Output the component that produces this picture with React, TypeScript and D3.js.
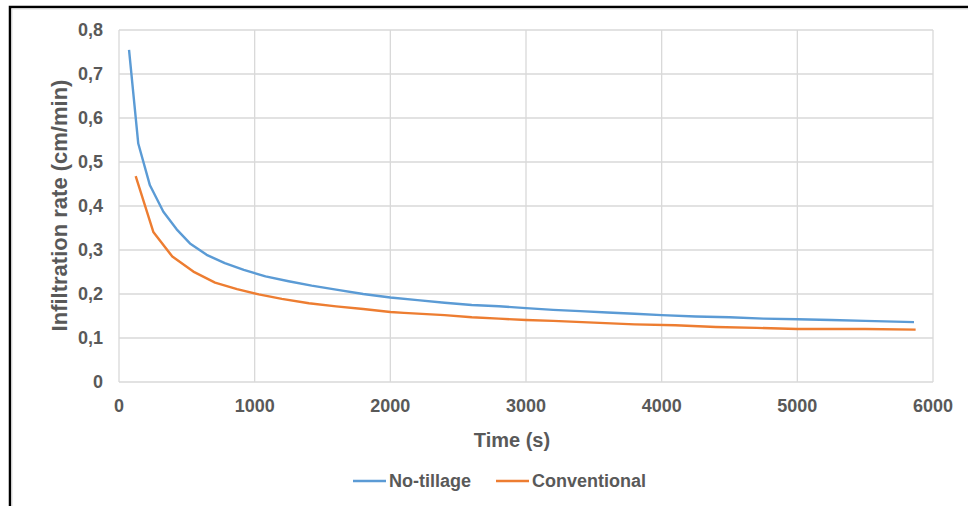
import React from "react";
import * as d3 from "d3";

const noTillTime = [74, 142, 228, 327, 425, 523, 646, 780, 920, 1080, 1250, 1420, 1600, 1800, 2000, 2200, 2400, 2600, 2800, 3000, 3200, 3400, 3600, 3800, 4000, 4250, 4500, 4750, 5000, 5250, 5500, 5860];
const noTillRate = [0.755, 0.542, 0.447, 0.387, 0.347, 0.315, 0.289, 0.27, 0.255, 0.24, 0.229, 0.219, 0.21, 0.2, 0.192, 0.186, 0.18, 0.175, 0.172, 0.168, 0.164, 0.161, 0.158, 0.155, 0.152, 0.149, 0.147, 0.144, 0.1425, 0.141, 0.139, 0.136];

const convTime = [123, 253, 393, 548, 708, 870, 1030, 1200, 1400, 1600, 1800, 2000, 2100, 2400, 2600, 2800, 3000, 3200, 3500, 3800, 4100, 4400, 4700, 5000, 5500, 5872];
const convRate = [0.468, 0.341, 0.285, 0.251, 0.226, 0.211, 0.199, 0.189, 0.179, 0.172, 0.166, 0.159, 0.157, 0.152, 0.147, 0.144, 0.141, 0.139, 0.135, 0.131, 0.129, 0.125, 0.123, 0.1205, 0.1205, 0.119];

const xTicks = [0, 1000, 2000, 3000, 4000, 5000, 6000];
const yTicks = [0, 0.1, 0.2, 0.3, 0.4, 0.5, 0.6, 0.7, 0.8];

const seriesNames = ["No-tillage", "Conventional"];
const seriesColors = ["#5B9BD5", "#ED7D31"];

const W = 968;
const H = 506;
const M = { left: 119, right: 933, top: 30, bottom: 382 };
const TEXT = "#595959";
const FONT = "'Liberation Sans', Arial, sans-serif";

export default function App() {
  const x = d3.scaleLinear().domain([0, 6000]).range([M.left, M.right]);
  const y = d3.scaleLinear().domain([0, 0.8]).range([M.bottom, M.top]);
  const line = d3
    .line<[number, number]>()
    .x((d) => x(d[0]))
    .y((d) => y(d[1]));

  const series = [
    noTillTime.map((t, i) => [t, noTillRate[i]] as [number, number]),
    convTime.map((t, i) => [t, convRate[i]] as [number, number]),
  ];

  const fmt = (v: number) => (v === 0 ? "0" : d3.format(".1f")(v).replace(".", ","));

  const legendY = 481;
  const legendItems = [
    { x1: 353, x2: 386, tx: 389 },
    { x1: 496, x2: 529, tx: 532 },
  ];

  return (
    <svg
      width={W}
      height={H}
      style={{ position: "fixed", left: 0, top: 0, background: "#fff" }}
      fontFamily={FONT}
    >
      <rect x={0} y={0} width={W} height={H} fill="#fff" />
      {/* outer frame */}
      <rect x={10} y={7} width={W + 20} height={H + 20} fill="none" stroke="#000" strokeWidth={2.5} />
      <rect x={12} y={9} width={W + 20} height={H + 20} fill="none" stroke="#ddd" strokeWidth={1} />

      {/* grid */}
      {yTicks.map((t) => (
        <line key={"gy" + t} x1={M.left} x2={M.right} y1={y(t)} y2={y(t)} stroke="#d9d9d9" strokeWidth={1.3} />
      ))}
      {xTicks.map((t) => (
        <line key={"gx" + t} x1={x(t)} x2={x(t)} y1={M.top} y2={M.bottom} stroke="#d9d9d9" strokeWidth={1.3} />
      ))}

      {/* lines */}
      {series.map((s, i) => (
        <path key={i} d={line(s) || ""} fill="none" stroke={seriesColors[i]} strokeWidth={2.4} strokeLinejoin="round" />
      ))}

      {/* y tick labels */}
      {yTicks.map((t) => (
        <text key={"ly" + t} x={M.left - 16} y={y(t)} dy="0.36em" textAnchor="end" fontSize={18} fontWeight="bold" fill={TEXT}>
          {fmt(t)}
        </text>
      ))}
      {/* x tick labels */}
      {xTicks.map((t) => (
        <text key={"lx" + t} x={x(t)} y={412} textAnchor="middle" fontSize={18} fontWeight="bold" fill={TEXT}>
          {t}
        </text>
      ))}

      {/* axis titles */}
      <text x={512} y={447} textAnchor="middle" fontSize={20} fontWeight="bold" fill={TEXT}>
        Time (s)
      </text>
      <text
        transform={`translate(67,${(78 + 333) / 2}) rotate(-90)`}
        textAnchor="middle"
        fontSize={22}
        fontWeight="bold"
        fill={TEXT}
      >
        Infiltration rate (cm/min)
      </text>

      {/* legend */}
      {seriesNames.map((n, i) => (
        <g key={n}>
          <line x1={legendItems[i].x1} x2={legendItems[i].x2} y1={legendY} y2={legendY} stroke={seriesColors[i]} strokeWidth={2.4} />
          <text x={legendItems[i].tx} y={legendY} dy="0.36em" fontSize={18} fontWeight="bold" fill={TEXT}>
            {n}
          </text>
        </g>
      ))}
    </svg>
  );
}
